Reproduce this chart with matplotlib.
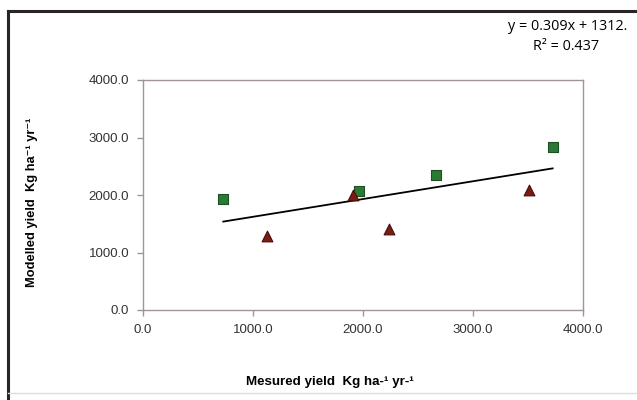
import matplotlib
matplotlib.use("Agg")
import matplotlib.pyplot as plt
import numpy as np
from matplotlib.lines import Line2D

plt.rcParams['font.family'] = ['Liberation Sans', 'DejaVu Sans']

# data
squares_x = [730, 1966, 2664, 3724]
squares_y = [1930, 2070, 2343, 2830]
triangles_x = [1130, 1906, 2239, 3506]
triangles_y = [1292, 2000, 1414, 2087]
slope = 0.309
intercept = 1312
trend_x = [730, 3724]
ticks = [0, 1000, 2000, 3000, 4000]

fig = plt.figure(figsize=(6.37, 4.0), dpi=100)
ax = fig.add_axes([143/637, 1 - 310/400, 440/637, 230/400])

axis_col = '#a39494'
for s in ax.spines.values():
    s.set_color(axis_col)
    s.set_linewidth(1.0)

# trend line
tx = np.array(trend_x)
ax.plot(tx, slope * tx + intercept, color='black', lw=1.3, zorder=2)

ax.scatter(squares_x, squares_y, marker='s', s=55, color='#2a7a35',
           edgecolors='#1d4f22', linewidths=0.8, zorder=3)
ax.scatter(triangles_x, triangles_y, marker='^', s=60, color='#7a1c14',
           edgecolors='#4a0e0a', linewidths=0.8, zorder=3)

ax.set_xlim(0, 4000)
ax.set_ylim(0, 4000)
ax.set_xticks(ticks)
ax.set_yticks(ticks)
ax.set_xticklabels([f"{t:.1f}" for t in ticks])
ax.set_yticklabels([f"{t:.1f}" for t in ticks])
ax.tick_params(direction='out', length=4, width=1, color=axis_col,
               labelsize=9.5, labelcolor='#333333', pad=6)

fig.text(330/637, 1 - 382/400, "Mesured yield  Kg ha-\u00b9 yr-\u00b9",
         ha='center', va='center', fontsize=9.6, fontweight='bold')
fig.text(32/637, 1 - 202/400, "Modelled yield  Kg ha\u207b\u00b9 yr\u207b\u00b9",
         ha='center', va='center', rotation=90, fontsize=9.3, fontweight='bold')

fig.text(627/637, 1 - 26/400, "y = 0.309x + 1312.", ha='right', va='center',
         fontsize=10.4, family=['Open Sans', 'DejaVu Sans'])
fig.text(566/637, 1 - 46/400, "R\u00b2 = 0.437", ha='center', va='center',
         fontsize=10.4, family=['Open Sans', 'DejaVu Sans'])

# outer chart frame
fig.add_artist(Line2D([8/637, 8/637], [0, 1 - 11/400], color='#2b2424', lw=2.2,
                      transform=fig.transFigure))
fig.add_artist(Line2D([8/637, 1], [1 - 11/400, 1 - 11/400], color='#2b2424', lw=2.2,
                      transform=fig.transFigure))
fig.add_artist(Line2D([8/637, 1], [1 - 393/400, 1 - 393/400], color='#dddddd', lw=1,
                      transform=fig.transFigure))

fig.savefig("out.png", dpi=100)
